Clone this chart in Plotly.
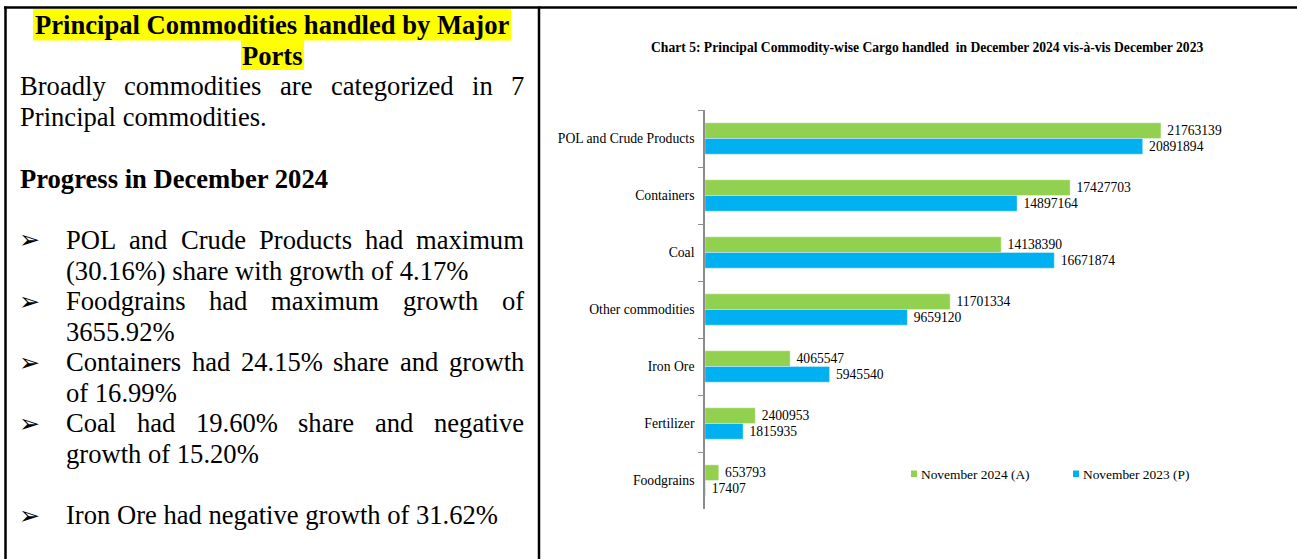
import plotly.graph_objects as go

# ---------------- data ----------------
categories = ["POL and Crude Products", "Containers", "Coal", "Other commodities",
              "Iron Ore", "Fertilizer", "Foodgrains"]
nov_2024 = [21763139, 17427703, 14138390, 11701334, 4065547, 2400953, 653793]
nov_2023 = [20891894, 14897164, 16671874, 9659120, 5945540, 1815935, 17407]
series_names = ["November 2024 (A)", "November 2023 (P)"]
chart_title = "Chart 5: Principal Commodity-wise Cargo handled  in December 2024 vis-à-vis December 2023"

heading_lines = ["Principal Commodities handled by Major", "Ports"]
intro_justified = "Broadly commodities are categorized in 7"
intro_last = "Principal commodities."
progress_heading = "Progress in December 2024"
bullet_lines = [
    ("POL and Crude Products had maximum", True, True),
    ("(30.16%) share with growth of 4.17%", False, False),
    ("Foodgrains had maximum growth of", True, True),
    ("3655.92%", False, False),
    ("Containers had 24.15% share and growth", True, True),
    ("of 16.99%", False, False),
    ("Coal had 19.60% share and negative", True, True),
    ("growth of 15.20%", False, False),
    ("Iron Ore had negative growth of 31.62%", True, False),
]

# ---------------- styling ----------------
W, H = 1297, 559
GREEN = "#92D050"
BLUE = "#00B0F0"
SERIF = "Liberation Serif, Times New Roman, serif"

def px(x):
    return x / W

def py(y):
    return 1 - y / H

# Times (Liberation Serif) regular advance widths, per 1000 em
TW = {' ': 250, 'a': 444, 'b': 500, 'c': 444, 'd': 500, 'e': 444, 'f': 333, 'g': 500, 'h': 500,
      'i': 278, 'j': 278, 'k': 500, 'l': 278, 'm': 778, 'n': 500, 'o': 500, 'p': 500, 'q': 500,
      'r': 333, 's': 389, 't': 278, 'u': 500, 'v': 500, 'w': 722, 'x': 500, 'y': 500, 'z': 444,
      'A': 722, 'B': 667, 'C': 667, 'D': 722, 'E': 611, 'F': 556, 'G': 722, 'H': 722, 'I': 333,
      'J': 389, 'K': 722, 'L': 611, 'M': 889, 'N': 722, 'O': 722, 'P': 556, 'Q': 722, 'R': 667,
      'S': 556, 'T': 611, 'U': 722, 'V': 722, 'W': 944, 'X': 722, 'Y': 722, 'Z': 611,
      '%': 833, '.': 250, ',': 250, '(': 333, ')': 333}

def text_w(s, size):
    return sum(TW.get(c, 500) for c in s) * size / 1000.0

FS = 26.6
annotations = []
shapes = []

def add_text(x, y, s, size=FS, bold=False, anchor="left", family=SERIF):
    annotations.append(dict(
        x=px(x), y=py(y), xref="paper", yref="paper", text=("<b>%s</b>" % s if bold else s),
        showarrow=False, xanchor=anchor, yanchor="middle",
        font=dict(family=family, size=size, color="black"), borderpad=0))

def add_justified(x0, x1, y, s, size=FS):
    words = s.split(" ")
    widths = [text_w(w, size) for w in words]
    gap = (x1 - x0 - sum(widths)) / (len(words) - 1)
    x = x0
    for w, wd in zip(words, widths):
        add_text(x, y, w, size)
        x += wd + gap

# table borders
shapes.append(dict(type="line", xref="paper", yref="paper", x0=px(4), x1=1, y0=py(7.5), y1=py(7.5),
                   line=dict(color="black", width=2.5)))
shapes.append(dict(type="line", xref="paper", yref="paper", x0=px(5.5), x1=px(5.5), y0=py(6.5), y1=0,
                   line=dict(color="black", width=2.5)))
shapes.append(dict(type="line", xref="paper", yref="paper", x0=px(539), x1=px(539), y0=py(6.5), y1=0,
                   line=dict(color="black", width=2.5)))

# heading with yellow highlight
shapes.append(dict(type="rect", xref="paper", yref="paper", x0=px(33), x1=px(511), y0=py(40.5), y1=py(9),
                   fillcolor="#FFFF00", line=dict(width=0), layer="below"))
shapes.append(dict(type="rect", xref="paper", yref="paper", x0=px(241), x1=px(304), y0=py(70), y1=py(40),
                   fillcolor="#FFFF00", line=dict(width=0), layer="below"))
add_text(272, 25, heading_lines[0], bold=True, anchor="center")
add_text(272, 55.5, heading_lines[1], bold=True, anchor="center")

add_justified(19, 523, 86, intro_justified)
add_text(19, 117, intro_last)
add_text(19, 179, progress_heading, bold=True)

line_y = [240, 270.5, 301, 331.5, 362, 392.5, 423, 453.5, 515]
for (s, bullet, just), yy in zip(bullet_lines, line_y):
    if bullet:
        add_text(18, yy, "➢", size=25, family="DejaVu Sans")
    if just:
        add_justified(65, 523, yy, s)
    else:
        add_text(65, yy, s)

# chart title
annotations.append(dict(x=px(927), y=py(47), xref="paper", yref="paper", text="<b>%s</b>" % chart_title,
                        showarrow=False, xanchor="center", yanchor="middle",
                        font=dict(family=SERIF, size=13.6, color="black")))

# legend (keys + labels)
for (x0, col, name) in [(911, GREEN, series_names[0]), (1073, BLUE, series_names[1])]:
    shapes.append(dict(type="rect", xref="paper", yref="paper", x0=px(x0), x1=px(x0 + 6),
                       y0=py(477), y1=py(470.5), fillcolor=col, line=dict(width=0)))
    annotations.append(dict(x=px(x0 + 8), y=py(474), xref="paper", yref="paper", text=name,
                            showarrow=False, xanchor="left", yanchor="middle",
                            font=dict(family=SERIF, size=13.4, color="black")))

fig = go.Figure()
for vals, col, name in [(nov_2024, GREEN, series_names[0]), (nov_2023, BLUE, series_names[1])]:
    fig.add_trace(go.Bar(
        y=categories, x=vals, orientation="h", name=name,
        marker=dict(color=col, line=dict(color="rgba(255,255,255,0.6)", width=0.6)),
        text=["\u00a0" + str(v) for v in vals], textposition="outside", constraintext="none",
        cliponaxis=False, textfont=dict(family=SERIF, size=13.6, color="black"),
    ))

x_right = 705 + 25 * 20.95
fig.update_layout(
    width=W, height=H, autosize=False,
    margin=dict(l=0, r=0, t=0, b=0),
    paper_bgcolor="white", plot_bgcolor="white",
    barmode="group", bargap=0.45, bargroupgap=0,
    showlegend=False, hovermode=False,
    shapes=shapes, annotations=annotations,
    xaxis=dict(domain=[px(705), px(x_right)], range=[0, 25e6], visible=False),
    yaxis=dict(domain=[py(509), py(110)], autorange="reversed", showline=True, linecolor="#8C8C8C",
               linewidth=1.5, ticks="outside", ticklen=5, tickcolor="#8C8C8C", tickwidth=1.2,
               tickson="boundaries", showgrid=False, ticklabelstandoff=6,
               tickfont=dict(family=SERIF, size=13.7, color="black")),
    font=dict(family=SERIF),
)

fig.write_html("out.html", config={"displayModeBar": False},
               post_script="document.body.style.margin='0';document.body.style.overflow='hidden';")
